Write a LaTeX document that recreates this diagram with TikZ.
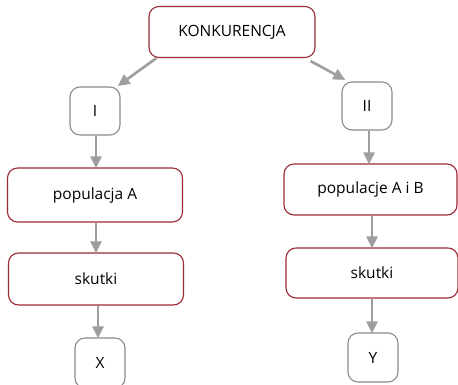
\documentclass[tikz,border=0pt]{standalone}
\usepackage{fontspec}
\setmainfont{Open Sans}
\usetikzlibrary{arrows.meta}
\definecolor{boxred}{HTML}{9A2A35}
\definecolor{boxgray}{HTML}{8C8C8C}
\definecolor{arrgray}{HTML}{9E9E9E}
\begin{document}
\begin{tikzpicture}[x=1pt,y=-1pt,
  redbox/.style={draw=boxred,line width=1.1pt,rounded corners=10pt,fill=white,inner sep=0pt,font=\fontsize{15.5}{18}\selectfont},
  graybox/.style={draw=boxgray,line width=1.1pt,rounded corners=10pt,fill=white,inner sep=0pt,minimum width=50pt,minimum height=48pt,font=\fontsize{15.5}{18}\selectfont},
  arr/.style={draw=arrgray,line width=2.6pt,-{Triangle[length=12pt,width=11pt]},shorten >=-1pt}]
\useasboundingbox (0,0) rectangle (458,385);
\node[redbox,minimum width=166pt,minimum height=51pt] (k) at (232,32) {KONKURENCJA};
\node[graybox] (one) at (95,111) {I};
\node[graybox] (two) at (367,106) {II};
\node[redbox,minimum width=175pt,minimum height=54pt] (pa) at (95,195) {populacja A};
\node[redbox,minimum width=175pt,minimum height=52pt] (sa) at (96,279) {skutki};
\node[graybox,minimum height=50pt] (x) at (100,363) {X};
\node[redbox,minimum width=173pt,minimum height=51pt] (pb) at (370.5,189.5) {populacje A i B};
\node[redbox,minimum width=172pt,minimum height=50pt] (sb) at (372,273) {skutki};
\node[graybox,minimum height=49pt] (y) at (373,357.5) {Y};
\coordinate (la) at (96,0);
\coordinate (lb) at (98,0);
\coordinate (ra) at (369,0);
\coordinate (rb) at (372,0);
\draw[arr] ([xshift=8pt]k.south west) -- ([xshift=-2pt,yshift=1pt]one.north east);
\draw[arr] ([xshift=-5pt,yshift=-3pt]k.south east) -- ([xshift=3pt,yshift=2pt]two.north west);
\draw[arr] (one.south -| la) -- (pa.north -| la);
\draw[arr] (pa.south -| la) -- (sa.north -| la);
\draw[arr] (sa.south -| lb) -- (x.north -| lb);
\draw[arr] (two.south -| ra) -- (pb.north -| ra);
\draw[arr] (pb.south -| rb) -- (sb.north -| rb);
\draw[arr] (sb.south -| rb) -- (y.north -| rb);
\end{tikzpicture}
\end{document}
